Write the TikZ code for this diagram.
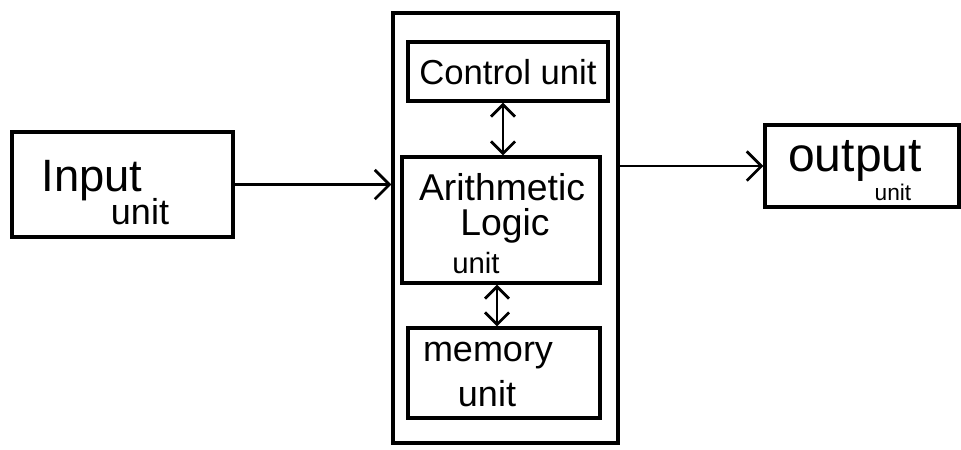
\documentclass[tikz,border=0pt]{standalone}
\usepackage{fontspec}
\setmainfont{Liberation Sans}
\usetikzlibrary{arrows.meta}
\tikzset{
  box/.style={draw=black, line width=2.6pt, rectangle, inner sep=0pt},
  lbl/.style={inner sep=0pt, text=black},
  arr/.style={line width=2pt, -{Straight Barb[length=11pt,width=22pt,line width=2pt]}},
  darr/.style={line width=2pt, {Straight Barb[length=9pt,width=18pt,line width=2pt]}-{Straight Barb[length=9pt,width=18pt,line width=2pt]}}
}
\newcommand{\fs}[1]{\fontsize{#1}{#1}\selectfont}
\begin{document}
\begin{tikzpicture}[x=0.75pt, y=-0.75pt]
\useasboundingbox (0,0) rectangle (961,450);
\fill[white] (0,0) rectangle (961,450);
% boxes
\node[box, minimum width=165.75pt, minimum height=78.75pt] (in) at (122.5,184.5) {};
\node[box, minimum width=168.75pt, minimum height=322.5pt] (cpu) at (505.5,228) {};
\node[box, minimum width=150pt, minimum height=44.25pt] (ctrl) at (508,71.5) {};
\node[box, minimum width=148.5pt, minimum height=94.5pt] (alu) at (501,220) {};
\node[box, minimum width=144pt, minimum height=67.5pt] (mem) at (504,373) {};
\node[box, minimum width=145.5pt, minimum height=61.5pt] (out) at (862,166) {};
% texts
\node[lbl] (tin1) at (92,181) {\fs{34pt}Input};
\node[lbl] (tin2) at (140,212) {\fs{27pt}unit};
\node[lbl] (tctrl) at (508,72) {\fs{26pt}Control unit};
\node[lbl] (talu1) at (502,187) {\fs{28pt}Arithmetic};
\node[lbl] (talu2) at (505,226) {\fs{28pt}Logic};
\node[lbl] (talu3) at (476,263) {\fs{22pt}unit};
\node[lbl] (tmem1) at (488,356) {\fs{27pt}memory};
\node[lbl] (tmem2) at (487,394) {\fs{27pt}unit};
\node[lbl] (tout1) at (855,161) {\fs{36pt}output};
\node[lbl] (tout2) at (893,192) {\fs{17pt}unit};
% connectors
\draw[arr] (in.east) -- (in.east -| cpu.west);
\draw[arr] (cpu.east |- out.west) -- (out.west);
\draw[darr] ([xshift=-3.75pt]ctrl.south) -- ([xshift=-3.75pt]ctrl.south |- alu.north);
\draw[darr] ([xshift=-3pt]alu.south) -- ([xshift=-3pt]alu.south |- mem.north);
\end{tikzpicture}
\end{document}
